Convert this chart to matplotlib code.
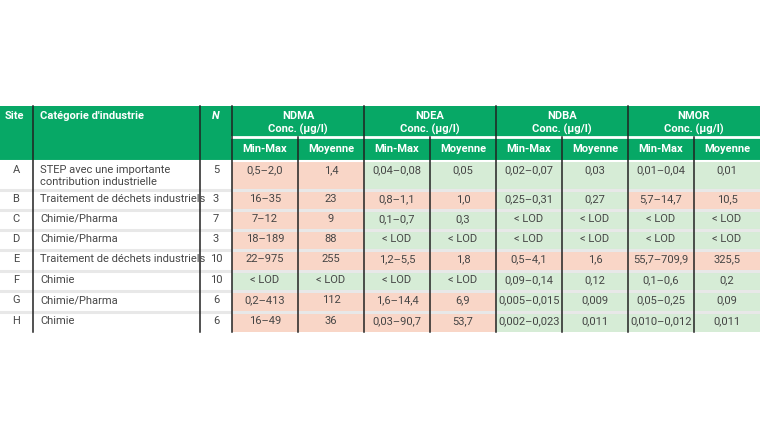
import matplotlib
matplotlib.use("Agg")
import matplotlib.pyplot as plt
from matplotlib.patches import Rectangle

sites = ["A", "B", "C", "D", "E", "F", "G", "H"]
categories = ["STEP avec une importante\ncontribution industrielle", "Traitement de déchets industriels",
              "Chimie/Pharma", "Chimie/Pharma", "Traitement de déchets industriels", "Chimie",
              "Chimie/Pharma", "Chimie"]
n_values = ["5", "3", "7", "3", "10", "10", "6", "6"]
substances = ["NDMA", "NDEA", "NDBA", "NMOR"]
ndma_range = ["0,5–2,0", "16–35", "7–12", "18–189", "22–975", "< LOD", "0,2–413", "16–49"]
ndma_mean = ["1,4", "23", "9", "88", "255", "< LOD", "112", "36"]
ndea_range = ["0,04–0,08", "0,8–1,1", "0,1–0,7", "< LOD", "1,2–5,5", "< LOD", "1,6–14,4", "0,03–90,7"]
ndea_mean = ["0,05", "1,0", "0,3", "< LOD", "1,8", "< LOD", "6,9", "53,7"]
ndba_range = ["0,02–0,07", "0,25–0,31", "< LOD", "< LOD", "0,5–4,1", "0,09–0,14", "0,005–0,015", "0,002–0,023"]
ndba_mean = ["0,03", "0,27", "< LOD", "< LOD", "1,6", "0,12", "0,009", "0,011"]
nmor_range = ["0,01–0,04", "5,7–14,7", "< LOD", "< LOD", "55,7–709,9", "0,1–0,6", "0,05–0,25", "0,010–0,012"]
nmor_mean = ["0,01", "10,5", "< LOD", "< LOD", "325,5", "0,2", "0,09", "0,011"]
# 1 = elevated (salmon), 0 = low (green)
ndma_flag = [1, 1, 1, 1, 1, 0, 1, 1]
ndea_flag = [0, 1, 0, 0, 1, 0, 1, 1]
ndba_flag = [0, 0, 0, 0, 1, 0, 0, 0]
nmor_flag = [0, 1, 0, 0, 1, 0, 0, 0]

values = [(ndma_range, ndma_mean, ndma_flag), (ndea_range, ndea_mean, ndea_flag),
          (ndba_range, ndba_mean, ndba_flag), (nmor_range, nmor_mean, nmor_flag)]

GREEN = "#07a866"
SALMON = "#f9d6c7"
LGREEN = "#d6ecd6"
GAP = "#e8e8e8"
TXT = "#444444"
plt.rcParams["font.family"] = "Roboto"

fig = plt.figure(figsize=(7.6, 4.4), dpi=100)
ax = fig.add_axes([0, 0, 1, 1])
ax.set_xlim(0, 760)
ax.set_ylim(440, 0)
ax.axis("off")

top, mid, hb = 106, 137, 161
row_edges = [161, 190, 210, 230, 250, 271, 291, 312, 332]
group_x = [232, 364, 496, 628, 760]
FS = 8

ax.add_patch(Rectangle((0, top), 760, hb - top, color=GREEN, lw=0))
ax.plot([232, 760], [mid, mid], color="white", lw=2)
ax.plot([0, 760], [hb, hb], color="white", lw=1.5)

hk = dict(color="white", fontweight="bold", fontsize=FS, va="top")
ax.text(5, top + 5, "Site", **hk)
ax.text(40, top + 5, "Catégorie d'industrie", **hk)
ax.text(216, top + 5, "N", ha="center", style="italic", **hk)
for i, s in enumerate(substances):
    cx = (group_x[i] + group_x[i + 1]) / 2
    ax.text(cx, top + 5, s, ha="center", **hk)
    ax.text(cx, top + 18, "Conc. (µg/l)", ha="center", **hk)
    for j, lab in enumerate(["Min-Max", "Moyenne"]):
        x0 = group_x[i] + j * 66
        ax.text(x0 + 33, mid + 12, lab, ha="center", va="center", color="white",
                fontweight="bold", fontsize=FS)

dk = dict(color=TXT, fontsize=FS, va="top")
for r in range(len(sites)):
    y0, y1 = row_edges[r], row_edges[r + 1]
    ax.add_patch(Rectangle((0, y0), 232, y1 - y0, color="white", lw=0))
    ax.text(16, y0 + 4, sites[r], ha="center", **dk)
    ax.text(40, y0 + 4, categories[r], linespacing=1.25, **dk)
    ax.text(216, y0 + 4, n_values[r], ha="center", **dk)
    for i, (rng, mean, flag) in enumerate(values):
        c = SALMON if flag[r] else LGREEN
        x0 = group_x[i]
        ax.add_patch(Rectangle((x0, y0), 132, y1 - y0, color=c, lw=0))
        ax.text(x0 + 33, y0 + 4, rng[r], ha="center", **dk)
        ax.text(x0 + 99, y0 + 4, mean[r], ha="center", **dk)
    if r > 0:
        ax.plot([0, 760], [y0, y0], color=GAP, lw=2.2)

for x in [33, 200, 232, 364, 496, 628]:
    ax.plot([x, x], [top, row_edges[-1]], color="#222222", lw=1.1)
for x in [298, 430, 562, 694]:
    ax.plot([x, x], [mid, row_edges[-1]], color="#222222", lw=1.1)

fig.savefig("out.png", dpi=100)
